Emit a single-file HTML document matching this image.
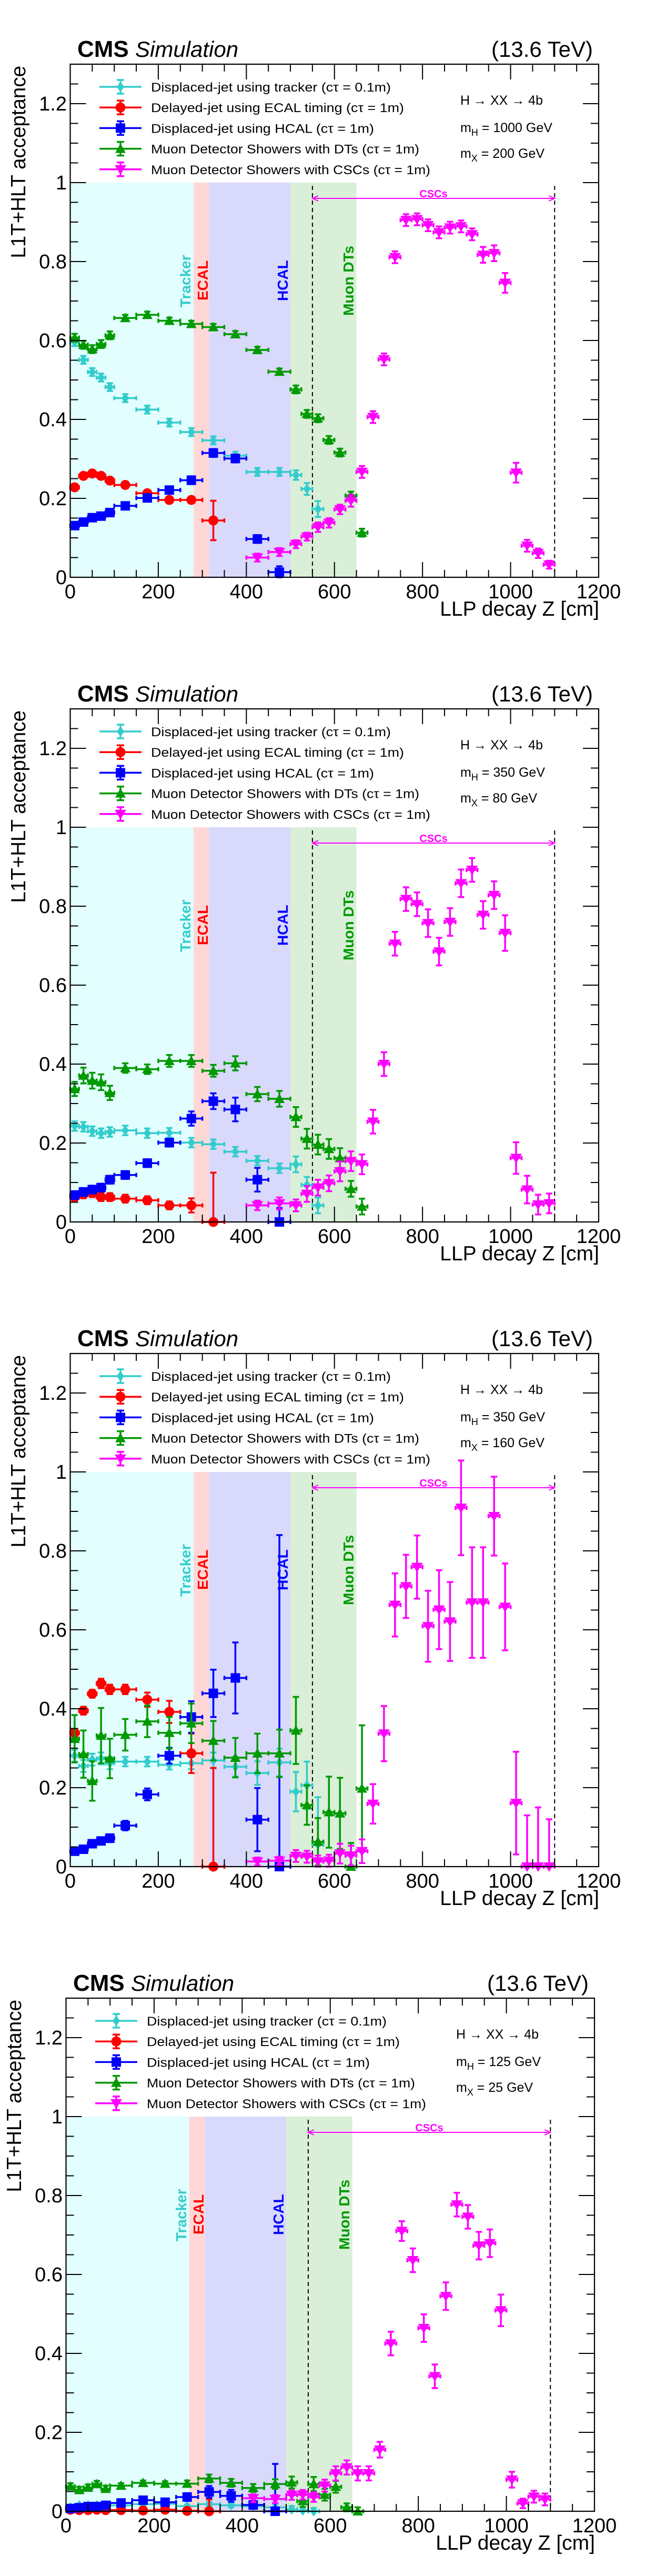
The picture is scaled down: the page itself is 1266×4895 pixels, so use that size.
<!DOCTYPE html>
<html><head><meta charset="utf-8"><style>
html,body{margin:0;padding:0;background:#fff}
svg{display:block}
text{font-family:"Liberation Sans",Arial,sans-serif}
</style></head><body>
<svg id="root" width="1266" height="4895" viewBox="0 0 1266 4895" xmlns="http://www.w3.org/2000/svg"></svg>
<script>
// ---- shared binning (LLP decay Z, cm) ----
const binEdges = [0,20,40,60,80,100,150,200,250,300,350,400,450,500,525,550,575,600,625,650,675,700,725,750,775,800,825,850,875,900,925,950,975,1000,1025,1050,1075,1100];
const xTicksMajor = [0,200,400,600,800,1000,1200];
const yTicksMajor = [0,0.2,0.4,0.6,0.8,1,1.2];
const yTickLabels = ["0","0.2","0.4","0.6","0.8","1","1.2"];
const N = null;
// ---- panel 1: mH=1000, mX=200 ----
const p1Tracker = [0.596,0.551,0.52,0.506,0.482,0.454,0.425,0.392,0.368,0.347,0.308,0.267,0.267,0.259,0.224,0.173];
const p1TrackerErr = [0.01,0.01,0.01,0.01,0.01,0.01,0.01,0.01,0.01,0.01,0.01,0.01,0.01,0.012,0.015,0.02];
const p1Ecal = [0.228,0.257,0.263,0.257,0.245,0.234,0.213,0.196,0.196,0.144];
const p1EcalErr = [0.008,0.008,0.008,0.008,0.008,0.008,0.008,0.008,0.008,0.05];
const p1Hcal = [0.131,0.14,0.151,0.155,0.164,0.181,0.201,0.221,0.246,0.315,0.301,0.097,0.013];
const p1HcalErr = [0.008,0.008,0.008,0.008,0.008,0.008,0.008,0.008,0.01,0.01,0.01,0.01,0.015];
const p1Dt = [0.607,0.589,0.578,0.591,0.613,0.657,0.665,0.65,0.642,0.634,0.616,0.576,0.521,0.476,0.414,0.403,0.348,0.316,0.207,0.113];
const p1DtErr = [0.01,0.01,0.01,0.01,0.01,0.008,0.008,0.008,0.008,0.008,0.008,0.008,0.008,0.01,0.01,0.01,0.01,0.01,0.01,0.01];
const p1Csc = [N,N,N,N,N,N,N,N,N,N,N,0.05,0.064,0.084,0.103,0.127,0.138,0.172,0.194,0.267,0.406,0.552,0.811,0.905,0.907,0.892,0.874,0.886,0.889,0.869,0.817,0.821,0.746,0.265,0.08,0.061,0.032];
const p1CscErr = [N,N,N,N,N,N,N,N,N,N,N,0.01,0.01,0.01,0.01,0.012,0.012,0.012,0.015,0.015,0.015,0.015,0.015,0.015,0.015,0.015,0.015,0.015,0.015,0.015,0.02,0.02,0.025,0.025,0.015,0.012,0.01];
// ---- panel 2: mH=350, mX=80 ----
const p2Tracker = [0.243,0.241,0.23,0.225,0.228,0.232,0.225,0.226,0.201,0.197,0.178,0.155,0.136,0.146,0.094,0.042];
const p2TrackerErr = [0.012,0.012,0.012,0.012,0.012,0.012,0.012,0.012,0.012,0.012,0.012,0.012,0.012,0.02,0.02,0.02];
const p2Ecal = [0.063,0.07,0.073,0.063,0.063,0.059,0.055,0.042,0.042,0];
const p2EcalErr = [0.01,0.01,0.01,0.01,0.01,0.01,0.01,0.01,0.018,0.125];
const p2Hcal = [0.068,0.076,0.082,0.087,0.107,0.119,0.149,0.201,0.262,0.306,0.285,0.107,0];
const p2HcalErr = [0.01,0.01,0.01,0.01,0.01,0.01,0.01,0.01,0.018,0.02,0.03,0.03,0.035];
const p2Dt = [0.337,0.371,0.358,0.354,0.327,0.39,0.387,0.408,0.408,0.383,0.402,0.324,0.312,0.266,0.211,0.196,0.185,0.162,0.084,0.039];
const p2DtErr = [0.018,0.02,0.02,0.02,0.018,0.012,0.012,0.015,0.015,0.015,0.018,0.018,0.02,0.025,0.025,0.025,0.025,0.025,0.02,0.02];
const p2Csc = [N,N,N,N,N,N,N,N,N,N,N,0.042,0.047,0.042,0.071,0.087,0.098,0.128,0.154,0.146,0.254,0.4,0.705,0.818,0.805,0.757,0.685,0.76,0.858,0.892,0.778,0.828,0.732,0.162,0.082,0.044,0.047];
const p2CscErr = [N,N,N,N,N,N,N,N,N,N,N,0.012,0.015,0.015,0.02,0.02,0.02,0.025,0.025,0.025,0.03,0.03,0.03,0.03,0.03,0.035,0.035,0.035,0.035,0.03,0.035,0.035,0.045,0.04,0.035,0.025,0.025];
// ---- panel 3: mH=350, mX=160 ----
const p3Tracker = [0.281,0.255,0.271,0.274,0.262,0.266,0.266,0.258,0.262,0.269,0.253,0.237,0.264,0.19,0.206,0.056];
const p3TrackerErr = [0.015,0.015,0.015,0.015,0.015,0.012,0.012,0.012,0.015,0.02,0.025,0.03,0.035,0.05,0.06,0.12];
const p3Ecal = [0.339,0.395,0.438,0.464,0.449,0.449,0.423,0.392,0.287,0];
const p3EcalErr = [0.01,0.01,0.01,0.012,0.012,0.012,0.018,0.028,0.05,0.25];
const p3Hcal = [0.039,0.044,0.058,0.065,0.072,0.104,0.183,0.281,0.379,0.439,0.478,0.119,0];
const p3HcalErr = [0.008,0.008,0.008,0.008,0.01,0.012,0.015,0.02,0.04,0.06,0.09,0.08,0.84];
const p3Dt = [0.324,0.285,0.217,0.332,0.274,0.334,0.368,0.339,0.363,0.319,0.276,0.287,0.287,0.345,0.156,0.063,0.138,0.135,0,0.198];
const p3DtErr = [0.06,0.06,0.05,0.07,0.05,0.04,0.04,0.04,0.05,0.05,0.05,0.05,0.06,0.085,0.05,0.06,0.09,0.09,0.06,0.16];
const p3Csc = [N,N,N,N,N,N,N,N,N,N,N,0.013,0.015,0.027,0.025,0.013,0.015,0.033,0.028,0.039,0.159,0.337,0.663,0.71,0.759,0.609,0.651,0.621,0.909,0.669,0.669,0.888,0.658,0.161,0,0,0];
const p3CscErr = [N,N,N,N,N,N,N,N,N,N,N,0.01,0.01,0.015,0.015,0.015,0.015,0.025,0.025,0.03,0.05,0.07,0.08,0.08,0.08,0.09,0.1,0.1,0.12,0.14,0.14,0.1,0.11,0.13,0.13,0.15,0.12];
// ---- panel 4: mH=125, mX=25 ----
const p4Tracker = [0.01,0.015,0.015,0.015,0.015,0.015,0.018,0.019,0.013,0.018,0.015,0.013,0.01,0.005,0.002,0];
const p4TrackerErr = [0.004,0.004,0.004,0.004,0.004,0.004,0.004,0.004,0.004,0.005,0.005,0.006,0.008,0.008,0.008,0.008];
const p4Ecal = [0.004,0.003,0.003,0.004,0.003,0.003,0.002,0.004,0.001,0];
const p4EcalErr = [0.003,0.003,0.003,0.003,0.003,0.003,0.003,0.003,0.003,0.03];
const p4Hcal = [0.007,0.009,0.012,0.012,0.015,0.021,0.028,0.023,0.036,0.049,0.039,0.016,0];
const p4HcalErr = [0.004,0.004,0.004,0.004,0.004,0.005,0.006,0.008,0.01,0.015,0.015,0.01,0.12];
const p4Dt = [0.063,0.054,0.06,0.069,0.057,0.065,0.072,0.07,0.07,0.083,0.072,0.059,0.069,0.073,0.026,0.069,0.042,0.062,0.01,0];
const p4DtErr = [0.008,0.008,0.008,0.008,0.008,0.006,0.006,0.006,0.008,0.01,0.01,0.01,0.012,0.015,0.015,0.018,0.015,0.015,0.01,0.01];
const p4Csc = [N,N,N,N,N,N,N,N,N,N,N,0.033,0.031,0.041,0.042,0.036,0.065,0.096,0.111,0.096,0.096,0.156,0.425,0.71,0.636,0.464,0.342,0.545,0.777,0.746,0.673,0.679,0.509,0.08,0.02,0.037,0.03];
const p4CscErr = [N,N,N,N,N,N,N,N,N,N,N,0.01,0.01,0.012,0.012,0.012,0.015,0.018,0.018,0.018,0.018,0.02,0.03,0.025,0.03,0.035,0.03,0.035,0.03,0.03,0.035,0.035,0.04,0.02,0.012,0.015,0.015];
const massesH = ["1000","350","350","125"];
const massesX = ["200","80","160","25"];

const panels = [
  {T:p1Tracker,Te:p1TrackerErr,E:p1Ecal,Ee:p1EcalErr,H:p1Hcal,He:p1HcalErr,D:p1Dt,De:p1DtErr,C:p1Csc,Ce:p1CscErr},
  {T:p2Tracker,Te:p2TrackerErr,E:p2Ecal,Ee:p2EcalErr,H:p2Hcal,He:p2HcalErr,D:p2Dt,De:p2DtErr,C:p2Csc,Ce:p2CscErr},
  {T:p3Tracker,Te:p3TrackerErr,E:p3Ecal,Ee:p3EcalErr,H:p3Hcal,He:p3HcalErr,D:p3Dt,De:p3DtErr,C:p3Csc,Ce:p3CscErr},
  {T:p4Tracker,Te:p4TrackerErr,E:p4Ecal,Ee:p4EcalErr,H:p4Hcal,He:p4HcalErr,D:p4Dt,De:p4DtErr,C:p4Csc,Ce:p4CscErr}
];
const panelDx = [0,0,0,-8];

const NS = "http://www.w3.org/2000/svg";
const X0=133.5, X1=1138, Y0=1097, YT=122, XMAX=1200, YMAX=1.3;
const sx = v => X0 + (v/XMAX)*(X1-X0);
const sy = v => Y0 - (v/YMAX)*(Y0-YT);
const COL = {T:"#33cccc",E:"#ff0000",H:"#0000ff",D:"#009900",C:"#ff00ff"};

function mk(tag, attrs, parent){
  const el=document.createElementNS(NS,tag);
  for(const k in attrs) el.setAttribute(k,attrs[k]);
  if(parent) parent.appendChild(el);
  return el;
}
function marker(kind, cx, cy, g){
  let el;
  if(kind==="T") el=mk("polygon",{points:`${cx},${cy-10} ${cx+7},${cy} ${cx},${cy+10} ${cx-7},${cy}`,fill:COL.T},g);
  else if(kind==="E") el=mk("circle",{cx:cx,cy:cy,r:9.5,fill:COL.E},g);
  else if(kind==="H") el=mk("rect",{x:cx-9,y:cy-9,width:18,height:18,fill:COL.H},g);
  else if(kind==="D") el=mk("polygon",{points:`${cx},${cy-10} ${cx+10},${cy+8} ${cx-10},${cy+8}`,fill:COL.D},g);
  else el=mk("polygon",{points:`${cx},${cy+10} ${cx+11},${cy-8} ${cx-11},${cy-8}`,fill:COL.C},g);
  return el;
}
function txt(s, attrs, parent){ const t=mk("text",attrs,parent); t.textContent=s; return t; }

const root=document.getElementById("root");
const kinds=["T","E","H","D","C"];
const seriesNames={T:"tracker",E:"ecal",H:"hcal",D:"dt",C:"csc"};
const legendTexts=["Displaced-jet using tracker (cτ = 0.1m)","Delayed-jet using ECAL timing (cτ = 1m)","Displaced-jet using HCAL (cτ = 1m)","Muon Detector Showers with DTs (cτ = 1m)","Muon Detector Showers with CSCs (cτ = 1m)"];
const legendLens=[456,481,424,510,531];

panels.forEach((P,pi)=>{
  const g=mk("g",{transform:`translate(${panelDx[pi]},${1225*pi})`},root);
  
  
  // bands
  const bands=[[0,280,"#e2fefe","tracker-band"],[280,315,"#ffd7d7","ecal-band"],[315,500,"#d9d9fb","hcal-band"],[500,650,"#d9efd8","muon-dt-band"]];
  bands.forEach(b=>{
    const r=mk("rect",{x:sx(b[0]),y:sy(1),width:sx(b[1])-sx(b[0]),height:sy(0)-sy(1),fill:b[2]},g);
    
    
  });
  // dashed lines
  [550,1100].forEach(v=>{
    const l=mk("line",{x1:sx(v),x2:sx(v),y1:353,y2:Y0,stroke:"#000","stroke-width":2,"stroke-dasharray":"8 6"},g);
    
    
  });
  // CSC arrow
  const ay=377, ax1=sx(550), ax2=sx(1100);
  const arr=mk("path",{d:`M${ax1},${ay} L${ax2},${ay} M${ax1+11},${ay-5} L${ax1},${ay} L${ax1+11},${ay+5} M${ax2-11},${ay-5} L${ax2},${ay} L${ax2-11},${ay+5}`,stroke:COL.C,"stroke-width":2,fill:"none"},g);
  
  
  const cl=txt("CSCs",{x:824,y:375,"font-size":20,"font-weight":"bold",fill:COL.C,"text-anchor":"middle"},g);
  
  
  // region labels
  const rl=[["Tracker",362,584,COL.T],["ECAL",395,571,COL.E],["HCAL",547,572,COL.H],["Muon DTs",672,600,COL.D]];
  rl.forEach(r=>{
    const t=txt(r[0],{x:r[1],y:r[2],transform:`rotate(-90 ${r[1]} ${r[2]})`,"font-size":28,"font-weight":"bold",fill:r[3]},g);
    
    
  });
  // data
  const clip=v=>Math.max(0,Math.min(YMAX,v));
  kinds.forEach(k=>{
    const vals=P[k], errs=P[k+"e"];
    const sg=mk("g",{},g);
    
    
    vals.forEach((v,i)=>{
      if(v===null||v===undefined) return;
      const e=(errs&&errs[i]!=null)?errs[i]:0.01;
      const xl=sx(binEdges[i]), xr=sx(binEdges[i+1]), xc=(xl+xr)/2, yc=sy(v);
      const yt=sy(clip(v+e)), yb=sy(clip(v-e));
      const pg=mk("g",{},sg);
      
      
      mk("path",{d:`M${xl},${yc} L${xr},${yc} M${xc},${yt} L${xc},${yb} M${xc-6},${yt} L${xc+6},${yt} M${xc-6},${yb} L${xc+6},${yb} M${xl},${yc-4} L${xl},${yc+4} M${xr},${yc-4} L${xr},${yc+4}`,stroke:COL[k],"stroke-width":3.5,fill:"none"},pg);
      marker(k,xc,yc,pg);
    });
  });
  // frame + ticks
  const fr=mk("rect",{x:X0,y:YT,width:X1-X0,height:Y0-YT,fill:"none",stroke:"#000","stroke-width":2.2},g);
  
  
  let d="";
  for(let v=0; v<=1200; v+=50){ const L=(v%200===0)?29:14; const x=sx(v); d+=`M${x},${Y0} L${x},${Y0-L} M${x},${YT} L${x},${YT+L} `; }
  for(let j=0; j<=26; j++){ const v=j*0.05; const L=(j%4===0)?30:15; const y=sy(v); d+=`M${X0},${y} L${X0+L},${y} M${X1},${y} L${X1-L},${y} `; }
  const tk=mk("path",{d:d,stroke:"#000","stroke-width":2,fill:"none"},g);
  
  
  xTicksMajor.forEach(v=>{
    const t=txt(String(v),{x:sx(v),y:1137,"font-size":38,"text-anchor":"middle"},g);
    
    
  });
  yTicksMajor.forEach((v,i)=>{
    const t=txt(yTickLabels[i],{x:127,y:sy(v)+13,"font-size":38,"text-anchor":"end"},g);
    
    
  });
  const xt=txt("LLP decay Z [cm]",{x:1139,y:1170,"font-size":39,"text-anchor":"end"},g);
  
  
  const yt=txt("L1T+HLT acceptance",{x:48,y:125,"font-size":38.5,"text-anchor":"end",transform:"rotate(-90 48 125)"},g);
  
  
  // header
  const hd=mk("text",{x:147,y:108,"font-size":42},g);
  
  
  const t1=mk("tspan",{"font-weight":"bold","font-size":44},hd); t1.textContent="CMS ";
  const t2=mk("tspan",{"font-style":"italic"},hd); t2.textContent="Simulation";
  const en=txt("(13.6 TeV)",{x:1127,y:108,"font-size":42,"text-anchor":"end"},g);
  
  
  // legend
  kinds.forEach((k,i)=>{
    const cy=165+39.2*i;
    const lg=mk("g",{},g);
    
    
    mk("path",{d:`M189,${cy} L269,${cy} M229,${cy-13} L229,${cy+13} M222,${cy-13} L236,${cy-13} M222,${cy+13} L236,${cy+13}`,stroke:COL[k],"stroke-width":3.5,fill:"none"},lg);
    marker(k,229,cy,lg);
    txt(legendTexts[i],{x:287,y:cy+9,"font-size":24.5,textLength:legendLens[i],lengthAdjust:"spacingAndGlyphs"},lg);
  });
  // process info
  const pr=txt("H → XX → 4b",{x:875,y:199,"font-size":25},g);
  
  
  const mh=mk("text",{x:875,y:251,"font-size":25},g);
  
  
  mh.innerHTML=`m<tspan font-size="18" dy="7">H</tspan><tspan dy="-7"> = ${massesH[pi]} GeV</tspan>`;
  const mx=mk("text",{x:875,y:300,"font-size":25},g);
  
  
  mx.innerHTML=`m<tspan font-size="18" dy="7">X</tspan><tspan dy="-7"> = ${massesX[pi]} GeV</tspan>`;
});
</script>
</body></html>
